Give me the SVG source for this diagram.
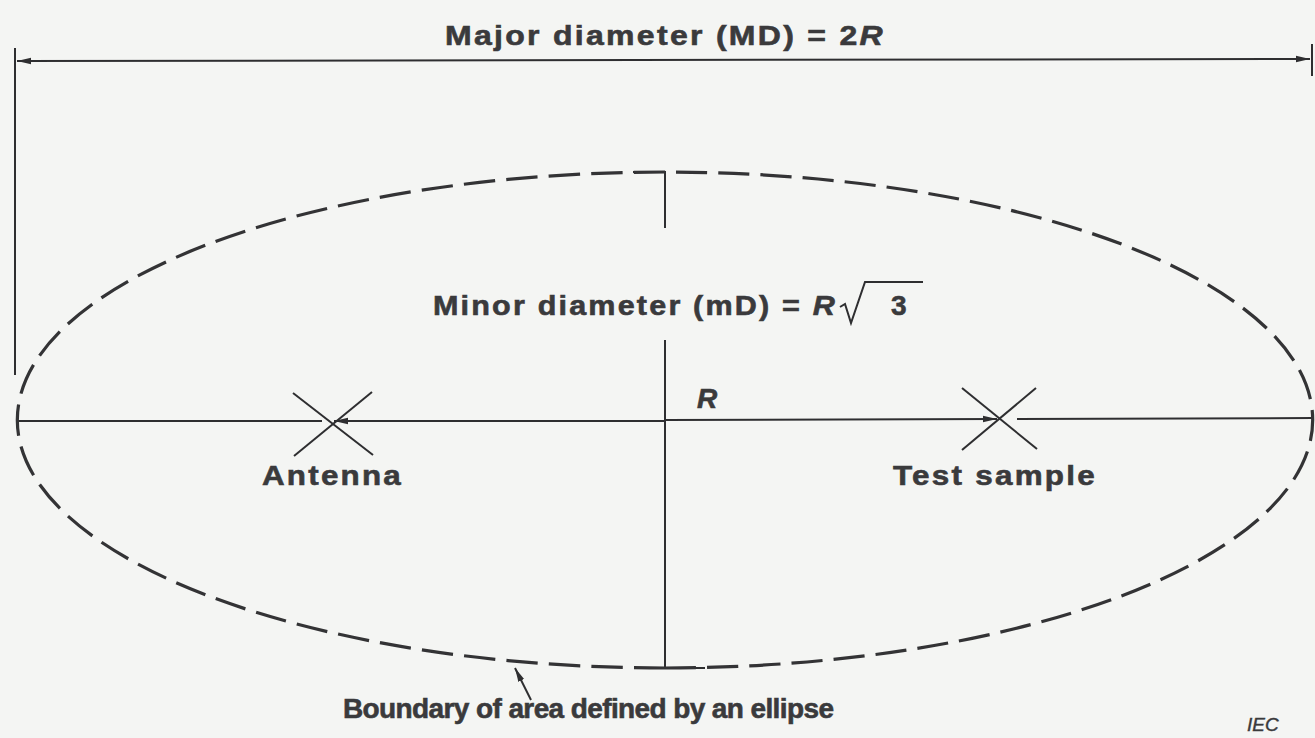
<svg xmlns="http://www.w3.org/2000/svg" width="1315" height="738" viewBox="0 0 1315 738">
<style>
.ln{stroke:#2e2e30;stroke-width:2;fill:none}
.dash{stroke:#333335;stroke-width:3.2;fill:none;stroke-linecap:butt}
.t{font-family:"Liberation Sans",Arial,sans-serif;font-weight:bold;fill:#3a3a3c;font-size:28px;stroke:#3a3a3c;stroke-width:0.6px;letter-spacing:2px}
.it{font-style:italic}
</style>
<defs>
<marker id="ah" viewBox="0 0 14 8" refX="14" refY="4" markerWidth="14" markerHeight="8" markerUnits="userSpaceOnUse" orient="auto-start-reverse">
<path d="M0,0.8 L14,4 L0,7.2 Z" fill="#2e2e30"/>
</marker>
</defs>
<rect width="1315" height="738" fill="#f4f5f3"/>

<g id="connectors">
<line class="ln" x1="15" y1="48" x2="15" y2="375"/>
<line class="ln" x1="1312" y1="44" x2="1312" y2="76"/>
<line class="ln" x1="17" y1="61" x2="1310" y2="59" marker-start="url(#ah)" marker-end="url(#ah)"/>
<line class="ln" x1="16" y1="421" x2="322" y2="421"/>
<line class="ln" x1="666" y1="421" x2="334" y2="421" marker-end="url(#ah)"/>
<line class="ln" x1="666" y1="420" x2="997" y2="419" marker-end="url(#ah)"/>
<line class="ln" x1="1017" y1="419" x2="1313" y2="418"/>
<polyline class="ln" points="633,172 665,172 665,228"/>
<polyline class="ln" points="665,340 665,668 705,668"/>
<line class="ln" x1="531" y1="700" x2="515" y2="668" marker-end="url(#ah)"/>
</g>

<g id="ellipse">
<path class="dash" pathLength="1000" stroke-dasharray="21.25 7.54" d="M665,172 A648,248 0 0 0 665,668"/>
<path class="dash" pathLength="1000" stroke-dasharray="21.09 7.48" d="M665,668 A648,248 0 0 0 665,172"/>
</g>

<g id="title">
<text class="t" x="445" y="45" textLength="440" lengthAdjust="spacingAndGlyphs">Major diameter (MD) = 2<tspan class="it">R</tspan></text>
</g>

<g id="minor">
<text class="t" x="433" y="315" textLength="404" lengthAdjust="spacingAndGlyphs">Minor diameter (mD) = <tspan class="it">R</tspan></text>
<polyline class="ln" stroke-width="2.6" points="840,307 845,304 851,323 865,282 923,282"/>
<text class="t" x="891" y="315" font-size="30" letter-spacing="0">3</text>
</g>

<g id="center-label">
<text class="t it" x="697" y="408" font-size="27" letter-spacing="0">R</text>
</g>

<g id="antenna">
<line class="ln" x1="293" y1="393" x2="373" y2="455"/>
<line class="ln" x1="372" y1="392" x2="294" y2="456"/>
<text class="t" x="262" y="485" font-size="27" textLength="141" lengthAdjust="spacingAndGlyphs">Antenna</text>
</g>

<g id="test-sample">
<line class="ln" x1="962" y1="388" x2="1037" y2="449"/>
<line class="ln" x1="1036" y1="388" x2="962" y2="450"/>
<text class="t" x="893" y="485" font-size="27" textLength="204" lengthAdjust="spacingAndGlyphs">Test sample</text>
</g>

<g id="boundary">
<text class="t" x="343" y="718" font-size="25" letter-spacing="0" stroke-width="0.3" textLength="493" lengthAdjust="spacing">Boundary of area defined by an ellipse</text>
</g>

<g id="iec">
<text x="1247" y="731" font-family="Liberation Sans, Arial, sans-serif" font-style="italic" font-size="19" fill="#3a3a3c" stroke="#3a3a3c" stroke-width="0.4">IEC</text>
</g>
</svg>
